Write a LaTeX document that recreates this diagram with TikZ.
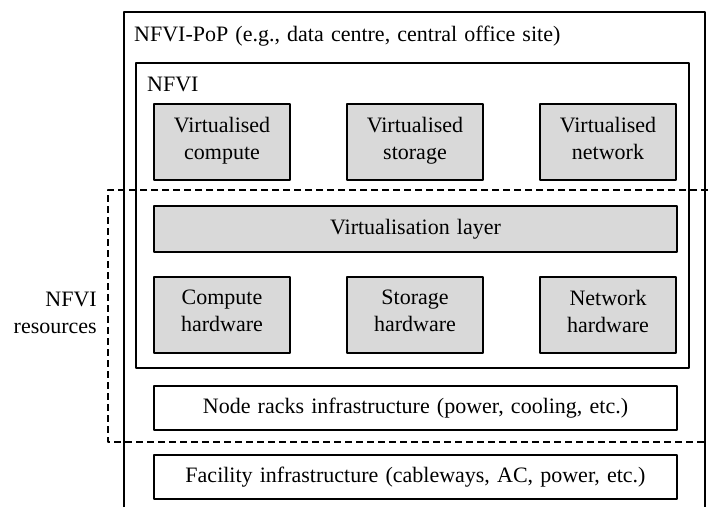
\documentclass[tikz,border=0pt]{standalone}
\usepackage{fontspec}
\setmainfont[WordSpace=1.3]{Liberation Serif}
\usetikzlibrary{positioning}
\tikzset{
  box/.style={draw, line width=1.2pt, fill=black!15, align=center, minimum width=136pt, minimum height=76pt, inner sep=0pt,
    execute at begin node=\strut, execute at end node=\strut},
  wbox/.style={draw, line width=1.2pt, fill=white, align=center, minimum width=523pt, minimum height=44pt, inner sep=0pt,
    execute at begin node=\strut, execute at end node=\strut},
  lbl/.style={inner sep=0pt}
}
\begin{document}
\begin{tikzpicture}[x=1pt,y=-1pt, line join=round, font=\fontsize{22}{27}\selectfont]
  \useasboundingbox (0,0) rectangle (708,507);
  % NFVI-PoP frame, open at the bottom
  \draw[line width=1.2pt] (124,507) -- (124,12) -- (705,12) -- (705,507);
  \node[lbl, anchor=west] (pop) at (134,36) {NFVI-PoP (e.g., data centre, central office site)};
  % NFVI frame
  \draw[line width=1.2pt] (136,63) rectangle (689,368);
  \node[lbl, anchor=west] (nfvi) at (147,84) {NFVI};
  % virtual resources
  \node[box] (vcomp) at (222,142) {Virtualised\\compute};
  \node[box] (vstor) at (415,142) {Virtualised\\storage};
  \node[box] (vnet) at (608,142) {Virtualised\\network};
  \node[box, minimum width=523pt, minimum height=46pt] (vlayer) at (415.5,229) {Virtualisation layer};
  % hardware
  \node[box] (hcomp) at (222,315) {Compute\\hardware};
  \node[box] (hstor) at (415,315) {Storage\\hardware};
  \node[box] (hnet) at (608,315) {Network\\hardware};
  \node[wbox] (racks) at (415.5,408) {Node racks infrastructure (power, cooling, etc.)};
  \node[wbox] (facil) at (415.5,477) {Facility infrastructure (cableways, AC, power, etc.)};
  % NFVI resources
  \draw[line width=1.1pt, dash pattern=on 7pt off 4pt] (708,190) -- (108,190) -- (108,442) -- (708,442);
  \node[lbl, anchor=east, align=right] (res) at (97,313) {NFVI\\resources};
\end{tikzpicture}
\end{document}
